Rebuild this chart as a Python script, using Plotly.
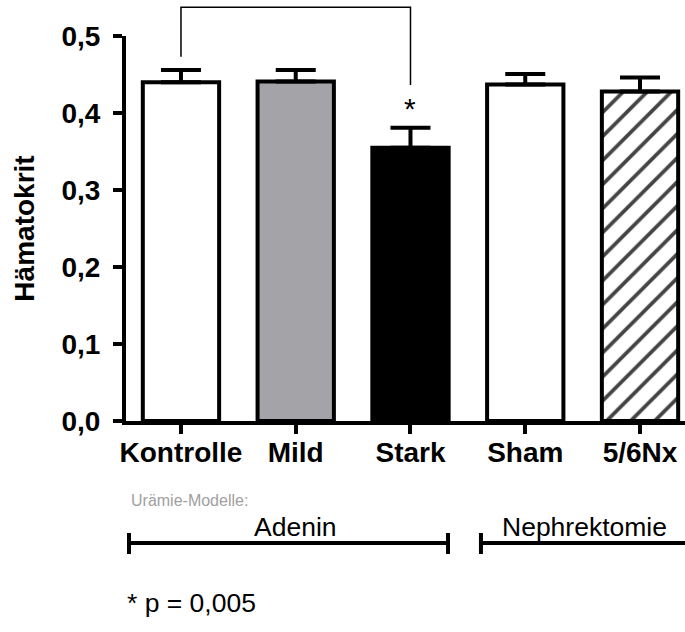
import plotly.graph_objects as go

# ---- data ----
categories = ["Kontrolle", "Mild", "Stark", "Sham", "5/6Nx"]
hematocrit = [0.440, 0.441, 0.355, 0.437, 0.428]
sem = [0.0157, 0.015, 0.026, 0.0135, 0.018]
bar_colors = ["white", "#a4a4a8", "black", "white", "white"]
bar_patterns = ["", "", "", "", "/"]
y_ticks = [0.0, 0.1, 0.2, 0.3, 0.4, 0.5]

FONT = "Liberation Sans, Arial, Helvetica, sans-serif"

fig = go.Figure()
fig.add_trace(go.Bar(
    x=categories,
    y=hematocrit,
    width=0.665,
    marker=dict(
        color=bar_colors,
        line=dict(color="black", width=4),
        pattern=dict(shape=bar_patterns, fgcolor="black", fgopacity=1, size=17, solidity=0.22),
    ),
    error_y=dict(type="data", symmetric=False, array=sem,
                 arrayminus=[0] * len(sem), color="black", thickness=4, width=20),
    showlegend=False,
    hoverinfo="skip",
))

# significance bracket Kontrolle vs Stark (above the plot area)
fig.add_shape(type="path", xref="x", yref="paper",
              path="M 0,0.9462 L 0,1.0745 L 2,1.0745 L 2,0.8727",
              line=dict(color="black", width=1.5))

# group brackets below the axis
line_y, cap_top, cap_bot = -0.3169, -0.2909, -0.3455
for x0, x1, caps in [(-0.453, 2.327, (-0.453, 2.327)), (2.614, 5.0, (2.614,))]:
    fig.add_shape(type="line", xref="x", yref="paper", x0=x0, x1=x1, y0=line_y, y1=line_y,
                  line=dict(color="black", width=4))
    for cx in caps:
        fig.add_shape(type="line", xref="x", yref="paper", x0=cx, x1=cx, y0=cap_top, y1=cap_bot,
                      line=dict(color="black", width=4))

annotations = [
    dict(text="*", x=2, y=0.4065, xref="x", yref="y", font=dict(size=30, color="black")),
    dict(text="Urämie-Modelle:", x=-0.453, y=-0.2052, xref="x", yref="paper", xanchor="left",
         font=dict(size=16, color="#a0a0a0")),
    dict(text="Adenin", x=1.0, y=-0.2753, xref="x", yref="paper", font=dict(size=26.5, color="black")),
    dict(text="Nephrektomie", x=3.52, y=-0.2753, xref="x", yref="paper", font=dict(size=26.5, color="black")),
    dict(text="* p = 0,005", x=-0.002, y=-0.4727, xref="paper", yref="paper", xanchor="left",
         font=dict(size=26.5, color="black")),
]
for a in annotations:
    a.setdefault("showarrow", False)
    a.setdefault("yanchor", "middle")
fig.update_layout(annotations=annotations)

fig.update_layout(
    width=685, height=632,
    margin=dict(l=126, r=0, t=36, b=211),
    paper_bgcolor="white", plot_bgcolor="white",
    font=dict(family=FONT, color="black"),
    separators=",.",
    xaxis=dict(
        type="category", range=[-0.479, 4.392], automargin=False,
        showline=True, linewidth=4, linecolor="black",
        ticks="outside", ticklen=9, tickwidth=3.5, tickcolor="black",
        tickfont=dict(size=28, weight="bold", color="black"),
        ticklabelstandoff=-6,
        showgrid=False, zeroline=False,
    ),
    yaxis=dict(
        range=[0, 0.5], tickvals=y_ticks, tickformat=".1f", automargin=False,
        showline=True, linewidth=4, linecolor="black",
        ticks="outside", ticklen=9, tickwidth=4, tickcolor="black",
        tickfont=dict(size=28, weight="bold", color="black"),
        ticklabelstandoff=7,
        showgrid=False, zeroline=False,
        title=dict(text="Hämatokrit", font=dict(size=28, weight="bold"), standoff=20),
    ),
)

fig.write_html("out.html", config={"displayModeBar": False},
               post_script="document.body.style.margin='0px';")
